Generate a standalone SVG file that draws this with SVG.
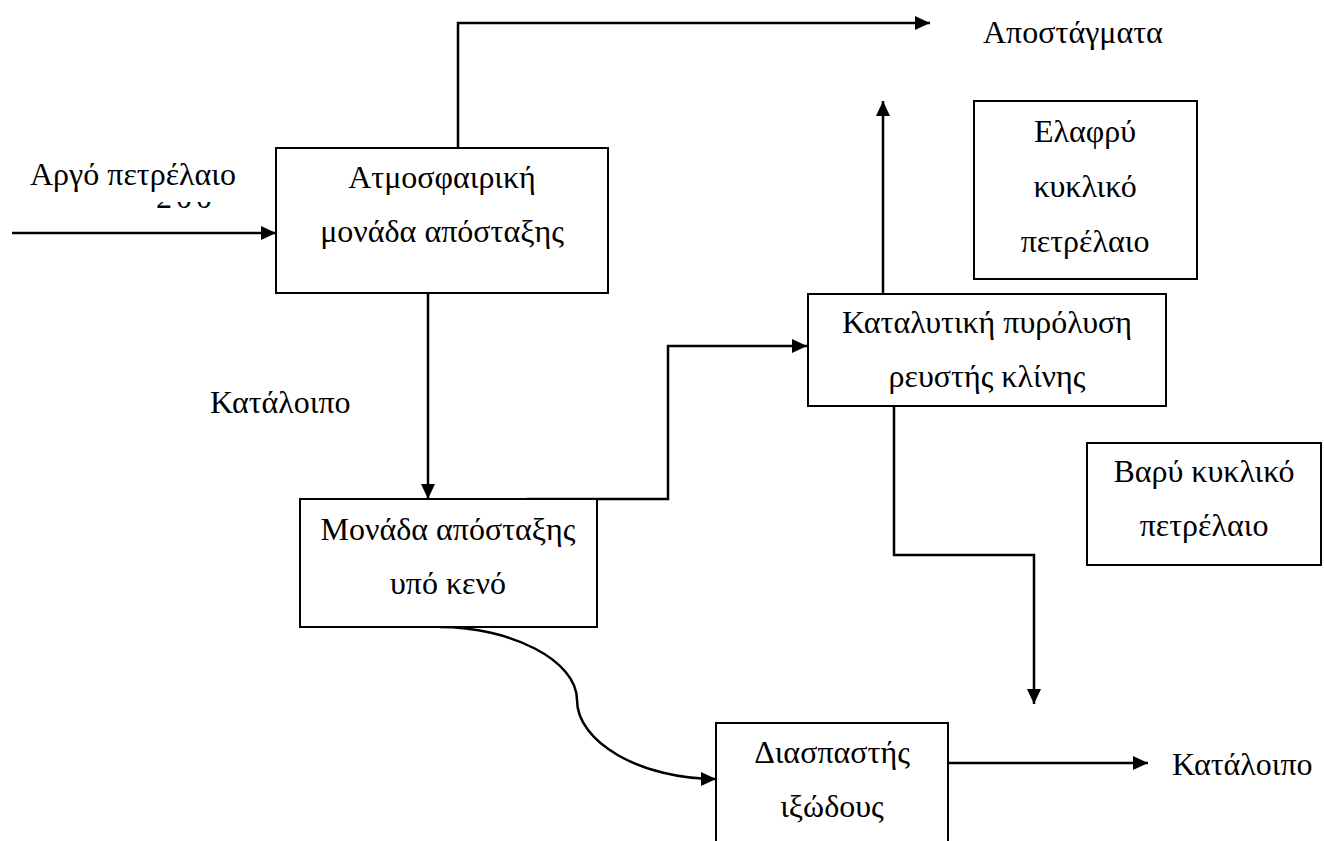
<svg xmlns="http://www.w3.org/2000/svg" width="1324" height="841" viewBox="0 0 1324 841">
<defs>
<marker id="ah" markerUnits="userSpaceOnUse" markerWidth="16" markerHeight="14" refX="15" refY="7" orient="auto">
<path d="M0,0 L15,7 L0,14 z" fill="#000"/>
</marker>
<clipPath id="frag"><rect x="140" y="202" width="90" height="10"/></clipPath>
<style>
.box{fill:#fff;stroke:#000;stroke-width:2}
.t{font-size:32px;fill:#000}
.m{text-anchor:middle}
.c{fill:none;stroke:#000;stroke-width:2.5;marker-end:url(#ah)}
</style>
</defs>
<rect width="1324" height="841" fill="#fff"/>
<g id="connectors">
<path class="c" d="M12,233 H276"/>
<path class="c" d="M458,148 V23 H930"/>
<path class="c" d="M428,293 V499"/>
<path class="c" d="M527,499 H668 V346 H807"/>
<path class="c" d="M883,294 V101"/>
<path class="c" d="M894,406 V555 H1034 V704"/>
<path class="c" d="M440,627 C510,627 577,660 577,700 C577,742 640,779 716,779"/>
<path class="c" d="M948,763 H1148"/>
</g>
<g font-family="'Liberation Serif', 'Times New Roman', 'DejaVu Serif', serif">
<g id="label-input"><text class="t" x="30" y="185">Αργό πετρέλαιο</text>
<text class="t" x="156" y="208" clip-path="url(#frag)" letter-spacing="4">200</text></g>
<g id="label-distillates"><text class="t" x="983" y="43">Αποστάγματα</text></g>
<g id="label-residue1"><text class="t" x="210" y="413">Κατάλοιπο</text></g>
<g id="label-residue2"><text class="t" x="1172" y="775">Κατάλοιπο</text></g>
<g id="node-atm">
<rect class="box" x="276" y="148" width="332" height="145"/>
<text class="t m" x="442" y="188">Ατμοσφαιρική</text>
<text class="t m" x="442" y="242">μονάδα απόσταξης</text>
</g>
<g id="node-vacuum">
<rect class="box" x="300" y="499" width="297" height="128"/>
<text class="t m" x="448" y="540">Μονάδα απόσταξης</text>
<text class="t m" x="448" y="594">υπό κενό</text>
</g>
<g id="node-fcc">
<rect class="box" x="808" y="294" width="358" height="112"/>
<text class="t m" x="987" y="333">Καταλυτική πυρόλυση</text>
<text class="t m" x="987" y="387">ρευστής κλίνης</text>
</g>
<g id="node-lco">
<rect class="box" x="974" y="101" width="223" height="178"/>
<text class="t m" x="1085" y="142">Ελαφρύ</text>
<text class="t m" x="1085" y="197">κυκλικό</text>
<text class="t m" x="1085" y="252">πετρέλαιο</text>
</g>
<g id="node-hco">
<rect class="box" x="1087" y="443" width="234" height="122"/>
<text class="t m" x="1204" y="482">Βαρύ κυκλικό</text>
<text class="t m" x="1204" y="536">πετρέλαιο</text>
</g>
<g id="node-visbreaker">
<rect class="box" x="716" y="723" width="232" height="140"/>
<text class="t m" x="832" y="763">Διασπαστής</text>
<text class="t m" x="832" y="817">ιξώδους</text>
</g>
</g>
</svg>
